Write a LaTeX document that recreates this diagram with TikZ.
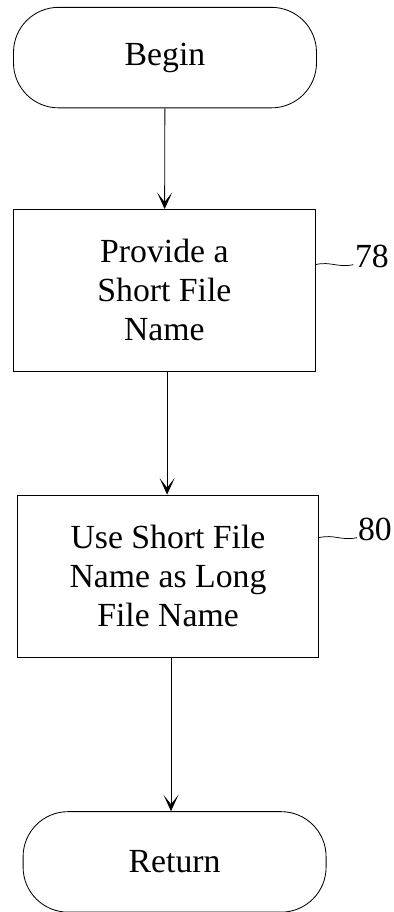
\documentclass[tikz,border=0pt]{standalone}
\usepackage{fontspec}
\setmainfont{Liberation Serif}
\usetikzlibrary{arrows.meta}

\begin{document}
\begin{tikzpicture}[every node/.style={font=\fontsize{32}{37}\selectfont},
    term/.style={draw, line width=0.8pt, rounded corners=1.5cm, minimum width=10.1cm, minimum height=3.35cm},
    proc/.style={draw, line width=0.8pt, minimum width=10.05cm, minimum height=5.4cm, align=center},
    arr/.style={line width=0.8pt, -{Stealth[length=0.55cm, width=0.5cm, inset=0.32cm]}}]
    \useasboundingbox (0,0) rectangle (13.1,-30.4);

    \node[term] (begin) at (5.5,   -1.92)  {Begin};
    \node[proc] (box1)  at (5.48,  -9.68)  {Provide a\\Short File\\Name};
    \node[proc] (box2)  at (5.6,  -19.2)   {Use Short File\\Name as Long\\File Name};
    \node[term] (ret)   at (5.82, -28.73)  {Return};

    \node[anchor=base west, inner sep=0pt] (l78) at (11.83, -8.9)  {78};
    \node[anchor=base west, inner sep=0pt] (l80) at (11.93, -18.03) {80};
    \coordinate (p78) at (11.78, -8.82);
    \coordinate (p80) at (11.9, -17.92);

    \draw[arr] (begin) -- (box1);
    \draw[arr] (box1.south -| 5.57,0) -- (box2.north -| 5.57,0);
    \draw[arr] (box2.south -| 5.7,0) -- (ret.north -| 5.7,0);

    \draw[line width=0.7pt] (box1.east |- p78) .. controls +(0.5,0.12) and +(-0.5,-0.12) .. (p78);
    \draw[line width=0.7pt] (box2.east |- p80) .. controls +(0.5,0.12) and +(-0.5,-0.12) .. (p80);

  \end{tikzpicture}
\end{document}
